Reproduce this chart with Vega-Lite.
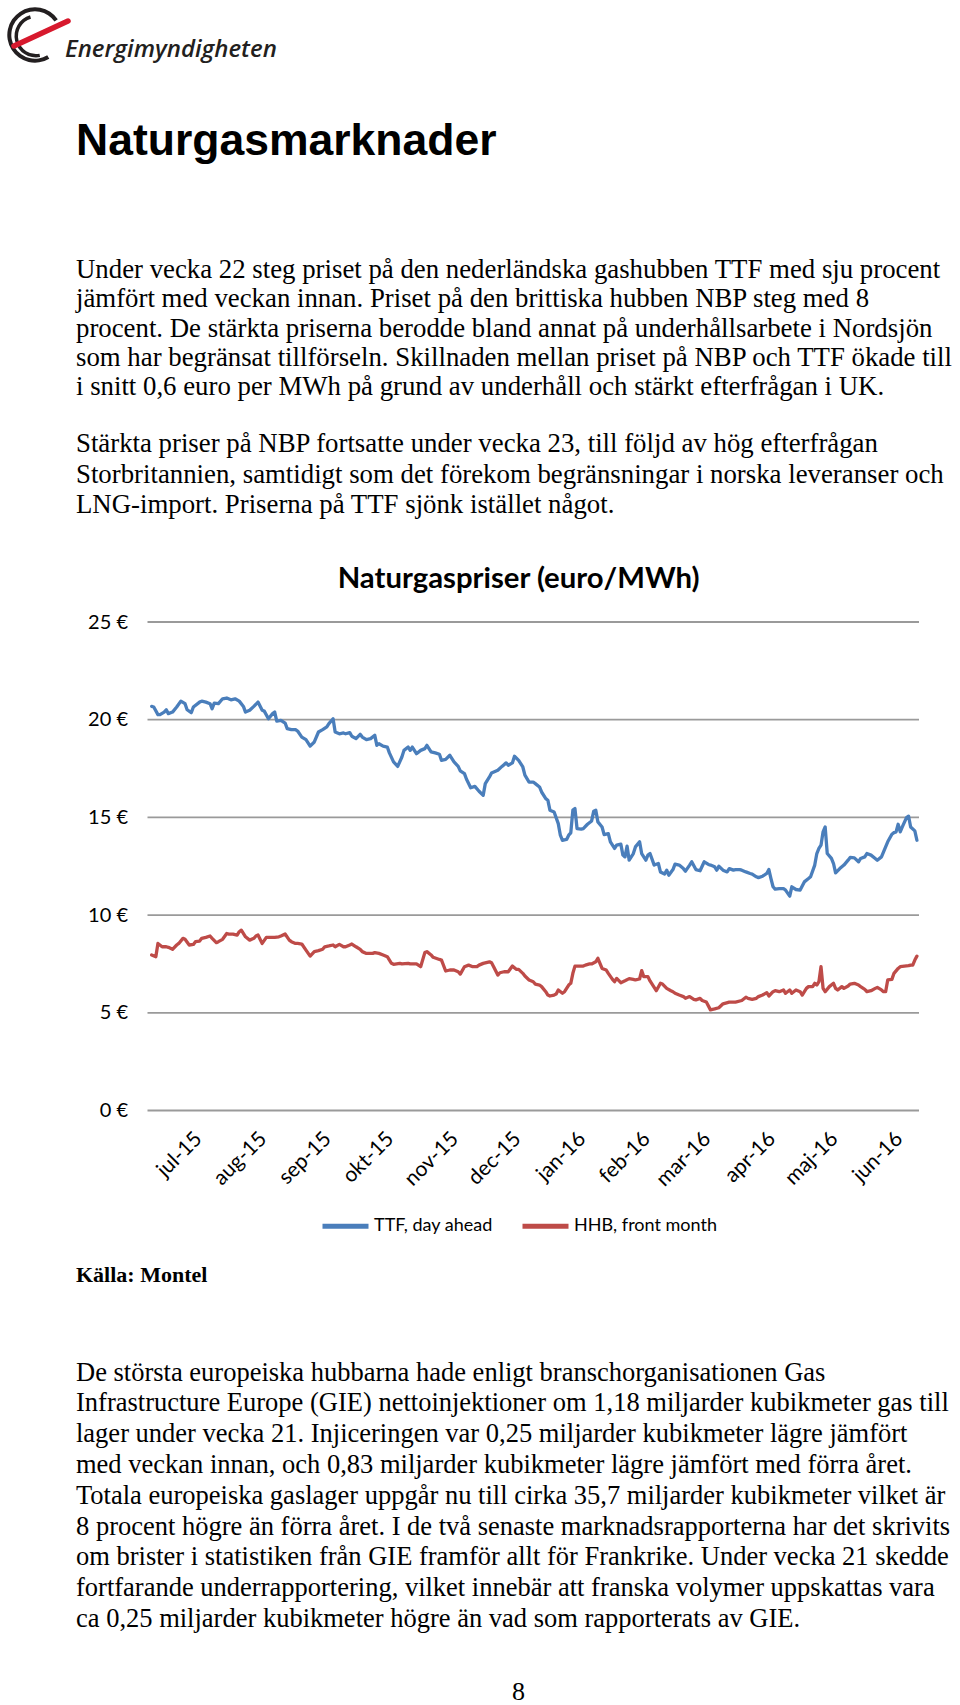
{
  "$schema": "https://vega.github.io/schema/vega-lite/v6.json",
  "padding": 0,
  "background": "white",
  "bounds": "flush",
  "spacing": 0,
  "config": {
    "view": {"stroke": null},
    "axis": {"labelFont": "Lato", "labelFontSize": 20, "labelColor": "#000000", "domain": false, "ticks": false, "tickSize": 0, "grid": false}
  },
  "vconcat": [
    {
      "width": 960,
      "height": 621.5,
      "resolve": {"scale": {"y": "independent"}},
      "layer": [
        {
          "data": {"values": [{"del": "yttre"}]},
          "mark": {"type": "arc", "radius": 27.7, "radius2": 23.7, "theta": 2.6, "theta2": 7.25, "color": "#231f20"},
          "encoding": {"x": {"value": 35}, "y": {"value": 35}}
        },
        {
          "data": {"values": [{"del": "inre"}]},
          "mark": {"type": "arc", "radius": 21.5, "radius2": 18, "theta": 2.95, "theta2": 6.0, "color": "#231f20"},
          "encoding": {"x": {"value": 36}, "y": {"value": 36}}
        },
        {
          "data": {"values": [{"del": "svep"}]},
          "mark": {"type": "rule", "color": "#d7192d", "strokeWidth": 5.5, "strokeCap": "round"},
          "encoding": {"x": {"value": 14}, "y": {"value": 46}, "x2": {"value": 68}, "y2": {"value": 21}}
        },
        {
          "data": {"values": [{"text": "Energimyndigheten"}]},
          "mark": {"type": "text", "font": "Open Sans", "fontStyle": "italic", "fontWeight": 600, "fontSize": 24, "align": "left", "baseline": "alphabetic", "color": "#231f20"},
          "encoding": {"x": {"value": 65}, "y": {"value": 56.5}, "text": {"field": "text"}}
        },
        {
          "data": {"values": [{"text": "Naturgasmarknader"}]},
          "mark": {"type": "text", "font": "Liberation Sans", "fontWeight": "bold", "fontSize": 44.5, "align": "left", "baseline": "alphabetic", "color": "#000000"},
          "encoding": {"x": {"value": 76}, "y": {"value": 155}, "text": {"field": "text"}}
        },
        {
          "data": {"values": [
            {"rad": 0, "text": "Under vecka 22 steg priset på den nederländska gashubben TTF med sju procent"},
            {"rad": 1, "text": "jämfört med veckan innan. Priset på den brittiska hubben NBP steg med 8"},
            {"rad": 2, "text": "procent. De stärkta priserna berodde bland annat på underhållsarbete i Nordsjön"},
            {"rad": 3, "text": "som har begränsat tillförseln. Skillnaden mellan priset på NBP och TTF ökade till"},
            {"rad": 4, "text": "i snitt 0,6 euro per MWh på grund av underhåll och stärkt efterfrågan i UK."}
          ]},
          "mark": {"type": "text", "font": "Liberation Serif", "fontSize": 26.8, "align": "left", "baseline": "alphabetic", "color": "#000000"},
          "encoding": {
            "x": {"value": 76},
            "y": {"field": "rad", "type": "quantitative", "scale": {"domain": [0, 4], "range": [278, 395.4]}, "axis": null},
            "text": {"field": "text"}
          }
        },
        {
          "data": {"values": [
            {"rad": 0, "text": "Stärkta priser på NBP fortsatte under vecka 23, till följd av hög efterfrågan"},
            {"rad": 1, "text": "Storbritannien, samtidigt som det förekom begränsningar i norska leveranser och"},
            {"rad": 2, "text": "LNG-import. Priserna på TTF sjönk istället något."}
          ]},
          "mark": {"type": "text", "font": "Liberation Serif", "fontSize": 26.8, "align": "left", "baseline": "alphabetic", "color": "#000000"},
          "encoding": {
            "x": {"value": 76},
            "y": {"field": "rad", "type": "quantitative", "scale": {"domain": [0, 2], "range": [452.2, 513.1]}, "axis": null},
            "text": {"field": "text"}
          }
        },
        {
          "data": {"values": [{"text": "Naturgaspriser (euro/MWh)"}]},
          "mark": {"type": "text", "font": "Lato", "fontWeight": "bold", "fontSize": 29.3, "align": "center", "baseline": "alphabetic", "color": "#000000"},
          "encoding": {"x": {"value": 518.6}, "y": {"value": 588}, "text": {"field": "text"}}
        }
      ]
    },
    {
      "width": 960,
      "height": 488.5,
      "encoding": {
        "x": {
          "field": "date", "type": "temporal",
          "scale": {"type": "utc", "domain": [{"year": 2015, "month": 6, "date": 6, "utc": true}, {"year": 2016, "month": 6, "date": 10, "utc": true}], "range": [147.5, 919], "nice": false},
          "axis": {
            "title": null,
            "values": [
              {"year": 2015, "month": 7, "date": 1, "utc": true}, {"year": 2015, "month": 8, "date": 1, "utc": true},
              {"year": 2015, "month": 9, "date": 1, "utc": true}, {"year": 2015, "month": 10, "date": 1, "utc": true},
              {"year": 2015, "month": 11, "date": 1, "utc": true}, {"year": 2015, "month": 12, "date": 1, "utc": true},
              {"year": 2016, "month": 1, "date": 1, "utc": true}, {"year": 2016, "month": 2, "date": 1, "utc": true},
              {"year": 2016, "month": 3, "date": 1, "utc": true}, {"year": 2016, "month": 4, "date": 1, "utc": true},
              {"year": 2016, "month": 5, "date": 1, "utc": true}, {"year": 2016, "month": 6, "date": 1, "utc": true}
            ],
            "labelExpr": "['jan','feb','mar','apr','maj','jun','jul','aug','sep','okt','nov','dec'][utcmonth(datum.value)] + '-' + utcFormat(datum.value, '%y')",
            "labelAngle": -45, "labelAlign": "right", "labelBaseline": "top", "labelPadding": 17, "labelOffset": -9, "labelFontSize": 21,
            "labelOverlap": false, "labelFlush": false, "labelBound": false
          }
        },
        "y": {
          "field": "pris", "type": "quantitative",
          "scale": {"domain": [0, 25], "nice": false},
          "axis": {"title": null, "values": [0, 5, 10, 15, 20, 25], "labelExpr": "datum.value + ' €'", "offset": -147.5, "labelPadding": 20, "labelAlign": "right", "labelBaseline": "middle"}
        }
      },
      "layer": [
        {
          "data": {"values": [
            {"pris": 0, "date": "2015-06-06", "slut": "2016-06-10"},
            {"pris": 5, "date": "2015-06-06", "slut": "2016-06-10"},
            {"pris": 10, "date": "2015-06-06", "slut": "2016-06-10"},
            {"pris": 15, "date": "2015-06-06", "slut": "2016-06-10"},
            {"pris": 20, "date": "2015-06-06", "slut": "2016-06-10"},
            {"pris": 25, "date": "2015-06-06", "slut": "2016-06-10"}
          ]},
          "mark": {"type": "rule", "color": "#9a9a9a", "strokeWidth": 1.8},
          "encoding": {"x2": {"field": "slut"}}
        },
        {
          "data": {"values": [
{"date":"2015-06-08","s":"TTF, day ahead","pris":20.68},{"date":"2015-06-09","s":"TTF, day ahead","pris":20.65},{"date":"2015-06-11","s":"TTF, day ahead","pris":20.26},{"date":"2015-06-12","s":"TTF, day ahead","pris":20.26},{"date":"2015-06-14","s":"TTF, day ahead","pris":20.39},{"date":"2015-06-15","s":"TTF, day ahead","pris":20.51},{"date":"2015-06-16","s":"TTF, day ahead","pris":20.31},{"date":"2015-06-18","s":"TTF, day ahead","pris":20.39},{"date":"2015-06-20","s":"TTF, day ahead","pris":20.65},{"date":"2015-06-22","s":"TTF, day ahead","pris":20.95},{"date":"2015-06-24","s":"TTF, day ahead","pris":20.82},{"date":"2015-06-25","s":"TTF, day ahead","pris":20.51},{"date":"2015-06-27","s":"TTF, day ahead","pris":20.36},{"date":"2015-06-28","s":"TTF, day ahead","pris":20.65},
{"date":"2015-07-01","s":"TTF, day ahead","pris":20.90},{"date":"2015-07-02","s":"TTF, day ahead","pris":20.95},{"date":"2015-07-04","s":"TTF, day ahead","pris":20.90},{"date":"2015-07-06","s":"TTF, day ahead","pris":20.82},{"date":"2015-07-07","s":"TTF, day ahead","pris":20.56},{"date":"2015-07-08","s":"TTF, day ahead","pris":20.85},{"date":"2015-07-10","s":"TTF, day ahead","pris":20.82},{"date":"2015-07-12","s":"TTF, day ahead","pris":21.07},{"date":"2015-07-14","s":"TTF, day ahead","pris":21.11},{"date":"2015-07-16","s":"TTF, day ahead","pris":21.02},{"date":"2015-07-18","s":"TTF, day ahead","pris":21.07},{"date":"2015-07-20","s":"TTF, day ahead","pris":20.95},{"date":"2015-07-22","s":"TTF, day ahead","pris":20.68},{"date":"2015-07-23","s":"TTF, day ahead","pris":20.39},{"date":"2015-07-25","s":"TTF, day ahead","pris":20.48},{"date":"2015-07-27","s":"TTF, day ahead","pris":20.68},{"date":"2015-07-29","s":"TTF, day ahead","pris":20.90},{"date":"2015-07-31","s":"TTF, day ahead","pris":20.48},
{"date":"2015-08-01","s":"TTF, day ahead","pris":20.44},{"date":"2015-08-03","s":"TTF, day ahead","pris":20.05},{"date":"2015-08-05","s":"TTF, day ahead","pris":20.31},{"date":"2015-08-06","s":"TTF, day ahead","pris":20.39},{"date":"2015-08-07","s":"TTF, day ahead","pris":19.93},{"date":"2015-08-09","s":"TTF, day ahead","pris":19.97},{"date":"2015-08-11","s":"TTF, day ahead","pris":19.83},{"date":"2015-08-12","s":"TTF, day ahead","pris":19.54},{"date":"2015-08-14","s":"TTF, day ahead","pris":19.49},{"date":"2015-08-16","s":"TTF, day ahead","pris":19.49},{"date":"2015-08-17","s":"TTF, day ahead","pris":19.42},{"date":"2015-08-19","s":"TTF, day ahead","pris":19.11},{"date":"2015-08-21","s":"TTF, day ahead","pris":18.98},{"date":"2015-08-23","s":"TTF, day ahead","pris":18.65},{"date":"2015-08-25","s":"TTF, day ahead","pris":18.86},{"date":"2015-08-27","s":"TTF, day ahead","pris":19.37},{"date":"2015-08-29","s":"TTF, day ahead","pris":19.49},{"date":"2015-08-31","s":"TTF, day ahead","pris":19.63},
{"date":"2015-09-01","s":"TTF, day ahead","pris":19.80},{"date":"2015-09-03","s":"TTF, day ahead","pris":20.05},{"date":"2015-09-04","s":"TTF, day ahead","pris":19.37},{"date":"2015-09-06","s":"TTF, day ahead","pris":19.28},{"date":"2015-09-08","s":"TTF, day ahead","pris":19.32},{"date":"2015-09-09","s":"TTF, day ahead","pris":19.28},{"date":"2015-09-11","s":"TTF, day ahead","pris":19.34},{"date":"2015-09-12","s":"TTF, day ahead","pris":19.15},{"date":"2015-09-14","s":"TTF, day ahead","pris":19.03},{"date":"2015-09-16","s":"TTF, day ahead","pris":19.25},{"date":"2015-09-17","s":"TTF, day ahead","pris":19.11},{"date":"2015-09-19","s":"TTF, day ahead","pris":18.98},{"date":"2015-09-21","s":"TTF, day ahead","pris":19.03},{"date":"2015-09-23","s":"TTF, day ahead","pris":19.20},{"date":"2015-09-24","s":"TTF, day ahead","pris":18.69},{"date":"2015-09-25","s":"TTF, day ahead","pris":18.77},{"date":"2015-09-27","s":"TTF, day ahead","pris":18.65},{"date":"2015-09-29","s":"TTF, day ahead","pris":18.60},{"date":"2015-09-30","s":"TTF, day ahead","pris":18.30},
{"date":"2015-10-02","s":"TTF, day ahead","pris":17.84},{"date":"2015-10-04","s":"TTF, day ahead","pris":17.61},{"date":"2015-10-06","s":"TTF, day ahead","pris":18.09},{"date":"2015-10-07","s":"TTF, day ahead","pris":18.43},{"date":"2015-10-09","s":"TTF, day ahead","pris":18.60},{"date":"2015-10-10","s":"TTF, day ahead","pris":18.43},{"date":"2015-10-11","s":"TTF, day ahead","pris":18.60},{"date":"2015-10-13","s":"TTF, day ahead","pris":18.26},{"date":"2015-10-15","s":"TTF, day ahead","pris":18.43},{"date":"2015-10-17","s":"TTF, day ahead","pris":18.52},{"date":"2015-10-18","s":"TTF, day ahead","pris":18.69},{"date":"2015-10-20","s":"TTF, day ahead","pris":18.35},{"date":"2015-10-22","s":"TTF, day ahead","pris":18.30},{"date":"2015-10-24","s":"TTF, day ahead","pris":18.23},{"date":"2015-10-25","s":"TTF, day ahead","pris":17.92},{"date":"2015-10-27","s":"TTF, day ahead","pris":17.97},{"date":"2015-10-29","s":"TTF, day ahead","pris":18.18},{"date":"2015-10-31","s":"TTF, day ahead","pris":17.84},
{"date":"2015-11-02","s":"TTF, day ahead","pris":17.61},{"date":"2015-11-03","s":"TTF, day ahead","pris":17.38},{"date":"2015-11-05","s":"TTF, day ahead","pris":17.24},{"date":"2015-11-06","s":"TTF, day ahead","pris":16.95},{"date":"2015-11-08","s":"TTF, day ahead","pris":16.52},{"date":"2015-11-10","s":"TTF, day ahead","pris":16.59},{"date":"2015-11-12","s":"TTF, day ahead","pris":16.34},{"date":"2015-11-14","s":"TTF, day ahead","pris":16.13},{"date":"2015-11-15","s":"TTF, day ahead","pris":16.73},{"date":"2015-11-17","s":"TTF, day ahead","pris":17.07},{"date":"2015-11-18","s":"TTF, day ahead","pris":17.27},{"date":"2015-11-21","s":"TTF, day ahead","pris":17.41},{"date":"2015-11-23","s":"TTF, day ahead","pris":17.61},{"date":"2015-11-25","s":"TTF, day ahead","pris":17.79},{"date":"2015-11-26","s":"TTF, day ahead","pris":17.67},{"date":"2015-11-28","s":"TTF, day ahead","pris":17.79},{"date":"2015-11-29","s":"TTF, day ahead","pris":18.13},
{"date":"2015-12-01","s":"TTF, day ahead","pris":17.92},{"date":"2015-12-03","s":"TTF, day ahead","pris":17.58},{"date":"2015-12-04","s":"TTF, day ahead","pris":17.16},{"date":"2015-12-06","s":"TTF, day ahead","pris":16.81},{"date":"2015-12-08","s":"TTF, day ahead","pris":16.81},{"date":"2015-12-09","s":"TTF, day ahead","pris":16.73},{"date":"2015-12-11","s":"TTF, day ahead","pris":16.56},{"date":"2015-12-12","s":"TTF, day ahead","pris":16.30},{"date":"2015-12-14","s":"TTF, day ahead","pris":15.96},{"date":"2015-12-15","s":"TTF, day ahead","pris":15.88},{"date":"2015-12-16","s":"TTF, day ahead","pris":15.37},{"date":"2015-12-18","s":"TTF, day ahead","pris":15.28},{"date":"2015-12-20","s":"TTF, day ahead","pris":14.68},{"date":"2015-12-21","s":"TTF, day ahead","pris":14.09},{"date":"2015-12-22","s":"TTF, day ahead","pris":13.83},{"date":"2015-12-24","s":"TTF, day ahead","pris":13.87},{"date":"2015-12-25","s":"TTF, day ahead","pris":14.09},{"date":"2015-12-26","s":"TTF, day ahead","pris":14.21},{"date":"2015-12-27","s":"TTF, day ahead","pris":15.37},{"date":"2015-12-28","s":"TTF, day ahead","pris":15.45},{"date":"2015-12-29","s":"TTF, day ahead","pris":14.43},{"date":"2015-12-31","s":"TTF, day ahead","pris":14.40},
{"date":"2016-01-01","s":"TTF, day ahead","pris":14.43},{"date":"2016-01-03","s":"TTF, day ahead","pris":14.65},{"date":"2016-01-05","s":"TTF, day ahead","pris":14.82},{"date":"2016-01-06","s":"TTF, day ahead","pris":15.32},{"date":"2016-01-07","s":"TTF, day ahead","pris":15.37},{"date":"2016-01-08","s":"TTF, day ahead","pris":14.77},{"date":"2016-01-10","s":"TTF, day ahead","pris":14.51},{"date":"2016-01-11","s":"TTF, day ahead","pris":14.12},{"date":"2016-01-13","s":"TTF, day ahead","pris":14.17},{"date":"2016-01-14","s":"TTF, day ahead","pris":13.75},{"date":"2016-01-16","s":"TTF, day ahead","pris":13.41},{"date":"2016-01-17","s":"TTF, day ahead","pris":13.58},{"date":"2016-01-19","s":"TTF, day ahead","pris":13.63},{"date":"2016-01-20","s":"TTF, day ahead","pris":13.07},{"date":"2016-01-21","s":"TTF, day ahead","pris":12.98},{"date":"2016-01-22","s":"TTF, day ahead","pris":13.53},{"date":"2016-01-23","s":"TTF, day ahead","pris":12.81},{"date":"2016-01-25","s":"TTF, day ahead","pris":13.15},{"date":"2016-01-26","s":"TTF, day ahead","pris":13.49},{"date":"2016-01-28","s":"TTF, day ahead","pris":13.75},{"date":"2016-01-29","s":"TTF, day ahead","pris":13.15},{"date":"2016-01-31","s":"TTF, day ahead","pris":12.81},
{"date":"2016-02-01","s":"TTF, day ahead","pris":13.07},{"date":"2016-02-02","s":"TTF, day ahead","pris":13.15},{"date":"2016-02-04","s":"TTF, day ahead","pris":12.56},{"date":"2016-02-06","s":"TTF, day ahead","pris":12.64},{"date":"2016-02-07","s":"TTF, day ahead","pris":12.21},{"date":"2016-02-09","s":"TTF, day ahead","pris":12.10},{"date":"2016-02-10","s":"TTF, day ahead","pris":12.30},{"date":"2016-02-11","s":"TTF, day ahead","pris":12.04},{"date":"2016-02-13","s":"TTF, day ahead","pris":12.33},{"date":"2016-02-14","s":"TTF, day ahead","pris":12.61},{"date":"2016-02-16","s":"TTF, day ahead","pris":12.56},{"date":"2016-02-18","s":"TTF, day ahead","pris":12.38},{"date":"2016-02-19","s":"TTF, day ahead","pris":12.25},{"date":"2016-02-21","s":"TTF, day ahead","pris":12.56},{"date":"2016-02-22","s":"TTF, day ahead","pris":12.73},{"date":"2016-02-24","s":"TTF, day ahead","pris":12.33},{"date":"2016-02-26","s":"TTF, day ahead","pris":12.27},{"date":"2016-02-27","s":"TTF, day ahead","pris":12.50},{"date":"2016-02-28","s":"TTF, day ahead","pris":12.73},
{"date":"2016-03-01","s":"TTF, day ahead","pris":12.59},{"date":"2016-03-02","s":"TTF, day ahead","pris":12.56},{"date":"2016-03-04","s":"TTF, day ahead","pris":12.47},{"date":"2016-03-05","s":"TTF, day ahead","pris":12.30},{"date":"2016-03-06","s":"TTF, day ahead","pris":12.50},{"date":"2016-03-08","s":"TTF, day ahead","pris":12.30},{"date":"2016-03-10","s":"TTF, day ahead","pris":12.21},{"date":"2016-03-11","s":"TTF, day ahead","pris":12.38},{"date":"2016-03-13","s":"TTF, day ahead","pris":12.30},{"date":"2016-03-14","s":"TTF, day ahead","pris":12.33},{"date":"2016-03-16","s":"TTF, day ahead","pris":12.33},{"date":"2016-03-17","s":"TTF, day ahead","pris":12.30},{"date":"2016-03-19","s":"TTF, day ahead","pris":12.21},{"date":"2016-03-21","s":"TTF, day ahead","pris":12.13},{"date":"2016-03-22","s":"TTF, day ahead","pris":12.10},{"date":"2016-03-24","s":"TTF, day ahead","pris":11.96},{"date":"2016-03-25","s":"TTF, day ahead","pris":11.92},{"date":"2016-03-27","s":"TTF, day ahead","pris":11.99},{"date":"2016-03-29","s":"TTF, day ahead","pris":12.13},{"date":"2016-03-30","s":"TTF, day ahead","pris":12.33},{"date":"2016-03-31","s":"TTF, day ahead","pris":11.87},
{"date":"2016-04-01","s":"TTF, day ahead","pris":11.45},{"date":"2016-04-02","s":"TTF, day ahead","pris":11.33},{"date":"2016-04-04","s":"TTF, day ahead","pris":11.36},{"date":"2016-04-06","s":"TTF, day ahead","pris":11.36},{"date":"2016-04-07","s":"TTF, day ahead","pris":11.28},{"date":"2016-04-09","s":"TTF, day ahead","pris":10.97},{"date":"2016-04-10","s":"TTF, day ahead","pris":11.45},{"date":"2016-04-12","s":"TTF, day ahead","pris":11.31},{"date":"2016-04-14","s":"TTF, day ahead","pris":11.28},{"date":"2016-04-16","s":"TTF, day ahead","pris":11.70},{"date":"2016-04-18","s":"TTF, day ahead","pris":11.87},{"date":"2016-04-19","s":"TTF, day ahead","pris":11.96},{"date":"2016-04-21","s":"TTF, day ahead","pris":12.56},{"date":"2016-04-22","s":"TTF, day ahead","pris":13.15},{"date":"2016-04-23","s":"TTF, day ahead","pris":13.41},{"date":"2016-04-24","s":"TTF, day ahead","pris":13.58},{"date":"2016-04-25","s":"TTF, day ahead","pris":14.26},{"date":"2016-04-26","s":"TTF, day ahead","pris":14.51},{"date":"2016-04-27","s":"TTF, day ahead","pris":13.15},{"date":"2016-04-29","s":"TTF, day ahead","pris":12.90},{"date":"2016-04-30","s":"TTF, day ahead","pris":12.64},
{"date":"2016-05-01","s":"TTF, day ahead","pris":12.16},{"date":"2016-05-03","s":"TTF, day ahead","pris":12.38},{"date":"2016-05-05","s":"TTF, day ahead","pris":12.56},{"date":"2016-05-07","s":"TTF, day ahead","pris":12.81},{"date":"2016-05-08","s":"TTF, day ahead","pris":12.95},{"date":"2016-05-10","s":"TTF, day ahead","pris":12.93},{"date":"2016-05-12","s":"TTF, day ahead","pris":12.73},{"date":"2016-05-13","s":"TTF, day ahead","pris":12.90},{"date":"2016-05-15","s":"TTF, day ahead","pris":12.98},{"date":"2016-05-16","s":"TTF, day ahead","pris":13.15},{"date":"2016-05-18","s":"TTF, day ahead","pris":13.07},{"date":"2016-05-20","s":"TTF, day ahead","pris":12.90},{"date":"2016-05-21","s":"TTF, day ahead","pris":12.81},{"date":"2016-05-23","s":"TTF, day ahead","pris":12.98},{"date":"2016-05-24","s":"TTF, day ahead","pris":13.24},{"date":"2016-05-26","s":"TTF, day ahead","pris":13.75},{"date":"2016-05-28","s":"TTF, day ahead","pris":14.14},{"date":"2016-05-29","s":"TTF, day ahead","pris":14.22},{"date":"2016-05-30","s":"TTF, day ahead","pris":14.26},{"date":"2016-05-31","s":"TTF, day ahead","pris":14.65},
{"date":"2016-06-01","s":"TTF, day ahead","pris":14.26},{"date":"2016-06-02","s":"TTF, day ahead","pris":14.51},{"date":"2016-06-04","s":"TTF, day ahead","pris":14.99},{"date":"2016-06-05","s":"TTF, day ahead","pris":15.06},{"date":"2016-06-06","s":"TTF, day ahead","pris":14.51},{"date":"2016-06-08","s":"TTF, day ahead","pris":14.31},{"date":"2016-06-09","s":"TTF, day ahead","pris":13.83},
{"date":"2015-06-08","s":"HHB, front month","pris":7.96},{"date":"2015-06-10","s":"HHB, front month","pris":7.87},{"date":"2015-06-11","s":"HHB, front month","pris":8.55},{"date":"2015-06-13","s":"HHB, front month","pris":8.38},{"date":"2015-06-15","s":"HHB, front month","pris":8.38},{"date":"2015-06-16","s":"HHB, front month","pris":8.35},{"date":"2015-06-18","s":"HHB, front month","pris":8.25},{"date":"2015-06-20","s":"HHB, front month","pris":8.47},{"date":"2015-06-21","s":"HHB, front month","pris":8.55},{"date":"2015-06-23","s":"HHB, front month","pris":8.81},{"date":"2015-06-24","s":"HHB, front month","pris":8.76},{"date":"2015-06-26","s":"HHB, front month","pris":8.47},{"date":"2015-06-28","s":"HHB, front month","pris":8.50},{"date":"2015-06-29","s":"HHB, front month","pris":8.64},
{"date":"2015-07-01","s":"HHB, front month","pris":8.67},{"date":"2015-07-02","s":"HHB, front month","pris":8.81},{"date":"2015-07-04","s":"HHB, front month","pris":8.86},{"date":"2015-07-06","s":"HHB, front month","pris":8.93},{"date":"2015-07-07","s":"HHB, front month","pris":8.81},{"date":"2015-07-09","s":"HHB, front month","pris":8.59},{"date":"2015-07-10","s":"HHB, front month","pris":8.64},{"date":"2015-07-12","s":"HHB, front month","pris":8.76},{"date":"2015-07-14","s":"HHB, front month","pris":9.06},{"date":"2015-07-15","s":"HHB, front month","pris":9.03},{"date":"2015-07-17","s":"HHB, front month","pris":9.03},{"date":"2015-07-19","s":"HHB, front month","pris":8.98},{"date":"2015-07-20","s":"HHB, front month","pris":9.15},{"date":"2015-07-21","s":"HHB, front month","pris":9.23},{"date":"2015-07-23","s":"HHB, front month","pris":8.89},{"date":"2015-07-25","s":"HHB, front month","pris":8.72},{"date":"2015-07-27","s":"HHB, front month","pris":8.81},{"date":"2015-07-28","s":"HHB, front month","pris":8.93},{"date":"2015-07-29","s":"HHB, front month","pris":8.98},{"date":"2015-07-31","s":"HHB, front month","pris":8.55},
{"date":"2015-08-02","s":"HHB, front month","pris":8.86},{"date":"2015-08-04","s":"HHB, front month","pris":8.86},{"date":"2015-08-06","s":"HHB, front month","pris":8.86},{"date":"2015-08-08","s":"HHB, front month","pris":8.89},{"date":"2015-08-09","s":"HHB, front month","pris":8.93},{"date":"2015-08-11","s":"HHB, front month","pris":9.03},{"date":"2015-08-13","s":"HHB, front month","pris":8.72},{"date":"2015-08-14","s":"HHB, front month","pris":8.64},{"date":"2015-08-16","s":"HHB, front month","pris":8.55},{"date":"2015-08-17","s":"HHB, front month","pris":8.55},{"date":"2015-08-19","s":"HHB, front month","pris":8.52},{"date":"2015-08-21","s":"HHB, front month","pris":8.21},{"date":"2015-08-23","s":"HHB, front month","pris":7.90},{"date":"2015-08-25","s":"HHB, front month","pris":8.13},{"date":"2015-08-27","s":"HHB, front month","pris":8.18},{"date":"2015-08-29","s":"HHB, front month","pris":8.25},{"date":"2015-08-30","s":"HHB, front month","pris":8.38},
{"date":"2015-09-01","s":"HHB, front month","pris":8.42},{"date":"2015-09-03","s":"HHB, front month","pris":8.47},{"date":"2015-09-04","s":"HHB, front month","pris":8.38},{"date":"2015-09-06","s":"HHB, front month","pris":8.50},{"date":"2015-09-08","s":"HHB, front month","pris":8.38},{"date":"2015-09-09","s":"HHB, front month","pris":8.38},{"date":"2015-09-11","s":"HHB, front month","pris":8.47},{"date":"2015-09-12","s":"HHB, front month","pris":8.52},{"date":"2015-09-14","s":"HHB, front month","pris":8.38},{"date":"2015-09-16","s":"HHB, front month","pris":8.25},{"date":"2015-09-17","s":"HHB, front month","pris":8.13},{"date":"2015-09-19","s":"HHB, front month","pris":8.04},{"date":"2015-09-22","s":"HHB, front month","pris":8.04},{"date":"2015-09-23","s":"HHB, front month","pris":8.08},{"date":"2015-09-25","s":"HHB, front month","pris":8.04},{"date":"2015-09-27","s":"HHB, front month","pris":7.96},{"date":"2015-09-29","s":"HHB, front month","pris":7.87},
{"date":"2015-10-01","s":"HHB, front month","pris":7.53},{"date":"2015-10-02","s":"HHB, front month","pris":7.48},{"date":"2015-10-05","s":"HHB, front month","pris":7.53},{"date":"2015-10-06","s":"HHB, front month","pris":7.50},{"date":"2015-10-09","s":"HHB, front month","pris":7.53},{"date":"2015-10-10","s":"HHB, front month","pris":7.50},{"date":"2015-10-11","s":"HHB, front month","pris":7.50},{"date":"2015-10-13","s":"HHB, front month","pris":7.50},{"date":"2015-10-15","s":"HHB, front month","pris":7.36},{"date":"2015-10-17","s":"HHB, front month","pris":8.08},{"date":"2015-10-18","s":"HHB, front month","pris":8.13},{"date":"2015-10-20","s":"HHB, front month","pris":7.96},{"date":"2015-10-21","s":"HHB, front month","pris":7.84},{"date":"2015-10-24","s":"HHB, front month","pris":7.73},{"date":"2015-10-25","s":"HHB, front month","pris":7.70},{"date":"2015-10-27","s":"HHB, front month","pris":7.14},{"date":"2015-10-29","s":"HHB, front month","pris":7.19},{"date":"2015-10-31","s":"HHB, front month","pris":7.19},
{"date":"2015-11-02","s":"HHB, front month","pris":7.10},{"date":"2015-11-03","s":"HHB, front month","pris":6.98},{"date":"2015-11-05","s":"HHB, front month","pris":7.36},{"date":"2015-11-07","s":"HHB, front month","pris":7.44},{"date":"2015-11-09","s":"HHB, front month","pris":7.36},{"date":"2015-11-11","s":"HHB, front month","pris":7.36},{"date":"2015-11-12","s":"HHB, front month","pris":7.44},{"date":"2015-11-14","s":"HHB, front month","pris":7.53},{"date":"2015-11-17","s":"HHB, front month","pris":7.61},{"date":"2015-11-18","s":"HHB, front month","pris":7.56},{"date":"2015-11-19","s":"HHB, front month","pris":7.36},{"date":"2015-11-21","s":"HHB, front month","pris":6.93},{"date":"2015-11-22","s":"HHB, front month","pris":7.05},{"date":"2015-11-24","s":"HHB, front month","pris":7.10},{"date":"2015-11-26","s":"HHB, front month","pris":7.10},{"date":"2015-11-28","s":"HHB, front month","pris":7.39},{"date":"2015-11-30","s":"HHB, front month","pris":7.22},
{"date":"2015-12-01","s":"HHB, front month","pris":7.22},{"date":"2015-12-03","s":"HHB, front month","pris":7.02},{"date":"2015-12-04","s":"HHB, front month","pris":6.88},{"date":"2015-12-06","s":"HHB, front month","pris":6.68},{"date":"2015-12-08","s":"HHB, front month","pris":6.59},{"date":"2015-12-09","s":"HHB, front month","pris":6.47},{"date":"2015-12-11","s":"HHB, front month","pris":6.42},{"date":"2015-12-12","s":"HHB, front month","pris":6.34},{"date":"2015-12-14","s":"HHB, front month","pris":6.08},{"date":"2015-12-15","s":"HHB, front month","pris":5.91},{"date":"2015-12-16","s":"HHB, front month","pris":5.86},{"date":"2015-12-18","s":"HHB, front month","pris":5.91},{"date":"2015-12-19","s":"HHB, front month","pris":5.96},{"date":"2015-12-20","s":"HHB, front month","pris":6.17},{"date":"2015-12-22","s":"HHB, front month","pris":6.00},{"date":"2015-12-23","s":"HHB, front month","pris":6.08},{"date":"2015-12-25","s":"HHB, front month","pris":6.42},{"date":"2015-12-26","s":"HHB, front month","pris":6.51},{"date":"2015-12-27","s":"HHB, front month","pris":7.02},{"date":"2015-12-28","s":"HHB, front month","pris":7.39},{"date":"2015-12-30","s":"HHB, front month","pris":7.39},
{"date":"2016-01-01","s":"HHB, front month","pris":7.39},{"date":"2016-01-02","s":"HHB, front month","pris":7.44},{"date":"2016-01-04","s":"HHB, front month","pris":7.50},{"date":"2016-01-05","s":"HHB, front month","pris":7.50},{"date":"2016-01-07","s":"HHB, front month","pris":7.61},{"date":"2016-01-08","s":"HHB, front month","pris":7.79},{"date":"2016-01-09","s":"HHB, front month","pris":7.53},{"date":"2016-01-10","s":"HHB, front month","pris":7.27},{"date":"2016-01-12","s":"HHB, front month","pris":7.19},{"date":"2016-01-13","s":"HHB, front month","pris":7.02},{"date":"2016-01-15","s":"HHB, front month","pris":6.71},{"date":"2016-01-16","s":"HHB, front month","pris":6.59},{"date":"2016-01-17","s":"HHB, front month","pris":6.76},{"date":"2016-01-19","s":"HHB, front month","pris":6.54},{"date":"2016-01-20","s":"HHB, front month","pris":6.59},{"date":"2016-01-21","s":"HHB, front month","pris":6.64},{"date":"2016-01-23","s":"HHB, front month","pris":6.75},{"date":"2016-01-25","s":"HHB, front month","pris":6.71},{"date":"2016-01-26","s":"HHB, front month","pris":6.68},{"date":"2016-01-28","s":"HHB, front month","pris":6.73},{"date":"2016-01-29","s":"HHB, front month","pris":7.16},{"date":"2016-01-30","s":"HHB, front month","pris":6.85},
{"date":"2016-02-01","s":"HHB, front month","pris":6.85},{"date":"2016-02-02","s":"HHB, front month","pris":6.63},{"date":"2016-02-04","s":"HHB, front month","pris":6.30},{"date":"2016-02-05","s":"HHB, front month","pris":6.13},{"date":"2016-02-07","s":"HHB, front month","pris":6.51},{"date":"2016-02-08","s":"HHB, front month","pris":6.47},{"date":"2016-02-10","s":"HHB, front month","pris":6.25},{"date":"2016-02-12","s":"HHB, front month","pris":6.13},{"date":"2016-02-13","s":"HHB, front month","pris":6.08},{"date":"2016-02-14","s":"HHB, front month","pris":6.00},{"date":"2016-02-16","s":"HHB, front month","pris":5.91},{"date":"2016-02-18","s":"HHB, front month","pris":5.83},{"date":"2016-02-19","s":"HHB, front month","pris":5.74},{"date":"2016-02-21","s":"HHB, front month","pris":5.83},{"date":"2016-02-23","s":"HHB, front month","pris":5.69},{"date":"2016-02-24","s":"HHB, front month","pris":5.66},{"date":"2016-02-26","s":"HHB, front month","pris":5.74},{"date":"2016-02-27","s":"HHB, front month","pris":5.63},{"date":"2016-02-29","s":"HHB, front month","pris":5.55},
{"date":"2016-03-02","s":"HHB, front month","pris":5.15},{"date":"2016-03-04","s":"HHB, front month","pris":5.20},{"date":"2016-03-06","s":"HHB, front month","pris":5.26},{"date":"2016-03-08","s":"HHB, front month","pris":5.46},{"date":"2016-03-11","s":"HHB, front month","pris":5.55},{"date":"2016-03-14","s":"HHB, front month","pris":5.55},{"date":"2016-03-17","s":"HHB, front month","pris":5.63},{"date":"2016-03-19","s":"HHB, front month","pris":5.80},{"date":"2016-03-20","s":"HHB, front month","pris":5.74},{"date":"2016-03-22","s":"HHB, front month","pris":5.69},{"date":"2016-03-24","s":"HHB, front month","pris":5.74},{"date":"2016-03-25","s":"HHB, front month","pris":5.83},{"date":"2016-03-27","s":"HHB, front month","pris":5.91},{"date":"2016-03-29","s":"HHB, front month","pris":6.03},{"date":"2016-03-30","s":"HHB, front month","pris":5.86},
{"date":"2016-04-01","s":"HHB, front month","pris":6.08},{"date":"2016-04-02","s":"HHB, front month","pris":6.13},{"date":"2016-04-04","s":"HHB, front month","pris":6.08},{"date":"2016-04-06","s":"HHB, front month","pris":6.17},{"date":"2016-04-07","s":"HHB, front month","pris":6.00},{"date":"2016-04-09","s":"HHB, front month","pris":6.17},{"date":"2016-04-10","s":"HHB, front month","pris":6.00},{"date":"2016-04-12","s":"HHB, front month","pris":6.17},{"date":"2016-04-14","s":"HHB, front month","pris":6.08},{"date":"2016-04-15","s":"HHB, front month","pris":5.91},{"date":"2016-04-17","s":"HHB, front month","pris":6.25},{"date":"2016-04-18","s":"HHB, front month","pris":6.34},{"date":"2016-04-20","s":"HHB, front month","pris":6.34},{"date":"2016-04-21","s":"HHB, front month","pris":6.51},{"date":"2016-04-22","s":"HHB, front month","pris":6.42},{"date":"2016-04-23","s":"HHB, front month","pris":6.59},{"date":"2016-04-24","s":"HHB, front month","pris":7.36},{"date":"2016-04-25","s":"HHB, front month","pris":6.25},{"date":"2016-04-26","s":"HHB, front month","pris":6.08},{"date":"2016-04-28","s":"HHB, front month","pris":6.34},{"date":"2016-04-30","s":"HHB, front month","pris":6.51},
{"date":"2016-05-01","s":"HHB, front month","pris":6.25},{"date":"2016-05-02","s":"HHB, front month","pris":6.17},{"date":"2016-05-04","s":"HHB, front month","pris":6.34},{"date":"2016-05-05","s":"HHB, front month","pris":6.25},{"date":"2016-05-07","s":"HHB, front month","pris":6.37},{"date":"2016-05-08","s":"HHB, front month","pris":6.47},{"date":"2016-05-10","s":"HHB, front month","pris":6.51},{"date":"2016-05-12","s":"HHB, front month","pris":6.42},{"date":"2016-05-13","s":"HHB, front month","pris":6.34},{"date":"2016-05-15","s":"HHB, front month","pris":6.20},{"date":"2016-05-16","s":"HHB, front month","pris":6.08},{"date":"2016-05-18","s":"HHB, front month","pris":6.13},{"date":"2016-05-20","s":"HHB, front month","pris":6.25},{"date":"2016-05-21","s":"HHB, front month","pris":6.30},{"date":"2016-05-23","s":"HHB, front month","pris":6.17},{"date":"2016-05-24","s":"HHB, front month","pris":6.08},{"date":"2016-05-25","s":"HHB, front month","pris":6.08},{"date":"2016-05-26","s":"HHB, front month","pris":6.68},{"date":"2016-05-28","s":"HHB, front month","pris":6.71},{"date":"2016-05-29","s":"HHB, front month","pris":7.02},{"date":"2016-05-31","s":"HHB, front month","pris":7.27},
{"date":"2016-06-01","s":"HHB, front month","pris":7.36},{"date":"2016-06-03","s":"HHB, front month","pris":7.39},{"date":"2016-06-05","s":"HHB, front month","pris":7.41},{"date":"2016-06-06","s":"HHB, front month","pris":7.44},{"date":"2016-06-07","s":"HHB, front month","pris":7.44},{"date":"2016-06-08","s":"HHB, front month","pris":7.70},{"date":"2016-06-09","s":"HHB, front month","pris":7.90}
          ]},
          "mark": {"type": "line", "strokeWidth": 3.3, "strokeJoin": "round", "strokeCap": "round"},
          "encoding": {
            "color": {
              "field": "s", "type": "nominal",
              "scale": {"domain": ["TTF, day ahead", "HHB, front month"], "range": ["#4a7ebb", "#be4b48"]},
              "legend": {
                "orient": "none", "legendX": 320, "legendY": 1200.5, "direction": "horizontal", "title": null,
                "symbolType": "stroke", "symbolSize": 2116, "symbolStrokeWidth": 5,
                "labelFont": "Lato", "labelFontSize": 18, "labelColor": "#000000", "labelOffset": 3,
                "columnPadding": 19, "padding": 0
              }
            }
          }
        }
      ]
    },
    {
      "width": 960,
      "height": 595,
      "resolve": {"scale": {"y": "independent"}},
      "layer": [
        {
          "data": {"values": [{"text": "Källa: Montel"}]},
          "mark": {"type": "text", "font": "Liberation Serif", "fontWeight": "bold", "fontSize": 22, "align": "left", "baseline": "alphabetic", "color": "#000000"},
          "encoding": {"x": {"value": 76}, "y": {"value": 171}, "text": {"field": "text"}}
        },
        {
          "data": {"values": [
            {"rad": 0, "text": "De största europeiska hubbarna hade enligt branschorganisationen Gas"},
            {"rad": 1, "text": "Infrastructure Europe (GIE) nettoinjektioner om 1,18 miljarder kubikmeter gas till"},
            {"rad": 2, "text": "lager under vecka 21. Injiceringen var 0,25 miljarder kubikmeter lägre jämfört"},
            {"rad": 3, "text": "med veckan innan, och 0,83 miljarder kubikmeter lägre jämfört med förra året."},
            {"rad": 4, "text": "Totala europeiska gaslager uppgår nu till cirka 35,7 miljarder kubikmeter vilket är"},
            {"rad": 5, "text": "8 procent högre än förra året. I de två senaste marknadsrapporterna har det skrivits"},
            {"rad": 6, "text": "om brister i statistiken från GIE framför allt för Frankrike. Under vecka 21 skedde"},
            {"rad": 7, "text": "fortfarande underrapportering, vilket innebär att franska volymer uppskattas vara"},
            {"rad": 8, "text": "ca 0,25 miljarder kubikmeter högre än vad som rapporterats av GIE."}
          ]},
          "mark": {"type": "text", "font": "Liberation Serif", "fontSize": 26.5, "align": "left", "baseline": "alphabetic", "color": "#000000"},
          "encoding": {
            "x": {"value": 76},
            "y": {"field": "rad", "type": "quantitative", "scale": {"domain": [0, 8], "range": [269.5, 515.9]}, "axis": null},
            "text": {"field": "text"}
          }
        },
        {
          "data": {"values": [{"text": "8"}]},
          "mark": {"type": "text", "font": "Liberation Serif", "fontSize": 26, "align": "center", "baseline": "alphabetic", "color": "#000000"},
          "encoding": {"x": {"value": 518.6}, "y": {"value": 589}, "text": {"field": "text"}}
        }
      ]
    }
  ]
}
